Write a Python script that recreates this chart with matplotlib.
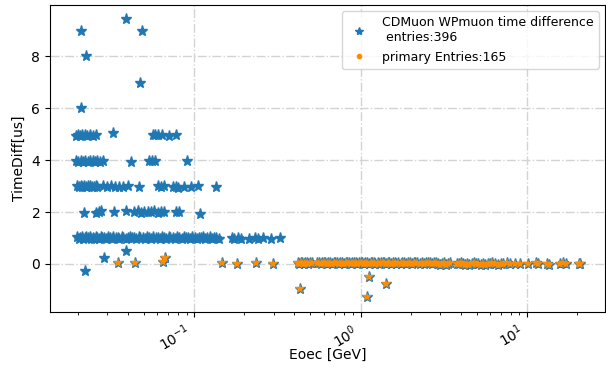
import matplotlib
matplotlib.use("Agg")
import matplotlib.pyplot as plt
from matplotlib.lines import Line2D

# ---------------- data ----------------
label_all = "CDMuon WPmuon time difference\n entries:396"
label_primary = "primary Entries:165"

# non-primary muon pairs (blue stars)
lvl1_x = [0.0197, 0.0202, 0.0207, 0.0211, 0.0216, 0.0221, 0.0225, 0.0231, 0.0236, 0.0240,
          0.0246, 0.0251, 0.0257, 0.0262, 0.0269, 0.0274, 0.0281, 0.0289, 0.0295, 0.0303,
          0.0310, 0.0321, 0.0327, 0.0338, 0.0347, 0.0355, 0.0367, 0.0376, 0.0389, 0.0398,
          0.0412, 0.0421, 0.0437, 0.0448, 0.0463, 0.0475, 0.0491, 0.0504, 0.0522, 0.0535,
          0.0553, 0.0568, 0.0587, 0.0603, 0.0623, 0.0640, 0.0662, 0.0679, 0.0702, 0.0720,
          0.0745, 0.0766, 0.0791, 0.0813, 0.0840, 0.0864, 0.0892, 0.0917, 0.0947, 0.0974,
          0.1006, 0.1035, 0.1068, 0.1101, 0.1133, 0.1169, 0.1203, 0.1241, 0.1279, 0.1322,
          0.1358, 0.1402, 0.168, 0.174, 0.183, 0.191, 0.213, 0.231, 0.241, 0.259, 0.289, 0.330]
lvl1_y = [1.02, 0.98, 1.01, 1.03, 0.97, 1.00, 1.02, 0.99, 1.03, 0.98,
          1.01, 0.97, 1.02, 1.00, 0.98, 1.03, 0.99, 1.01, 0.97, 1.02,
          1.00, 0.98, 1.03, 0.99, 1.01, 0.97, 1.02, 1.00, 0.98, 1.01,
          1.03, 0.99, 1.00, 0.97, 1.02, 0.99, 1.01, 0.98, 1.03, 1.00,
          0.97, 1.02, 0.99, 1.01, 0.98, 1.03, 1.00, 0.97, 1.02, 0.99,
          1.01, 0.98, 1.02, 1.00, 0.97, 1.03, 0.99, 1.01, 0.98, 1.02,
          1.00, 0.97, 1.01, 0.99, 1.03, 0.98, 1.00, 1.02, 0.97, 1.01,
          0.99, 0.98, 1.00, 0.97, 0.99, 0.96, 0.98, 1.01, 0.97, 0.99, 0.96, 1.00]

lvl2_x = [0.0217, 0.0256, 0.0267, 0.0274, 0.0328, 0.0388, 0.0433, 0.0458, 0.0478, 0.0497,
          0.0526, 0.0548, 0.0571, 0.0604, 0.0630, 0.0656, 0.0774, 0.0810, 0.108]
lvl2_y = [1.98, 1.95, 2.01, 2.03, 2.01, 2.02, 1.99, 2.02, 1.98, 2.00,
          2.01, 1.99, 2.02, 1.98, 2.00, 1.99, 2.01, 1.99, 1.94]

lvl3_x = [0.0197, 0.0203, 0.0208, 0.0213, 0.0219, 0.0224, 0.0230, 0.0236, 0.0242, 0.0249,
          0.0256, 0.0262, 0.0282, 0.0298, 0.0315, 0.0333, 0.0352, 0.0372, 0.0399, 0.0465,
          0.0604, 0.0630, 0.0656, 0.0743, 0.0774, 0.0796, 0.0865, 0.0953, 0.105, 0.135]
lvl3_y = [2.99, 2.96, 3.00, 2.97, 3.01, 2.95, 2.99, 3.02, 2.96, 2.98,
          3.00, 2.95, 2.99, 2.97, 3.01, 2.96, 2.98, 2.95, 2.99, 2.97,
          3.01, 2.98, 2.99, 2.96, 2.98, 2.94, 2.97, 2.95, 2.99, 2.98]

lvl4_x = [0.0194, 0.0201, 0.0208, 0.0215, 0.0222, 0.0229, 0.0237, 0.0245, 0.0253, 0.0262,
          0.0271, 0.0285, 0.0416, 0.0533, 0.0556, 0.0585, 0.0902]
lvl4_y = [3.95, 3.92, 3.97, 3.93, 3.96, 3.91, 3.95, 3.98, 3.93, 3.96,
          3.92, 3.97, 3.92, 3.96, 3.98, 3.95, 3.97]

lvl5_x = [0.0194, 0.0200, 0.0207, 0.0213, 0.0220, 0.0227, 0.0236, 0.0246, 0.0256,
          0.0324, 0.0563, 0.0585, 0.0610, 0.0645, 0.0703, 0.0774]
lvl5_y = [4.93, 4.97, 4.92, 4.96, 4.98, 4.94, 4.97, 4.93, 4.95,
          5.03, 4.95, 4.98, 4.96, 4.97, 4.91, 4.95]

high_x = [0.0208, 0.0388, 0.0484, 0.0223, 0.0471, 0.0208]
high_y = [8.96, 9.42, 8.96, 8.00, 6.96, 6.00]

low_x = [0.0220, 0.0287, 0.0388]
low_y = [-0.26, 0.24, 0.50]

# primary muon pairs (drawn blue, then overlaid orange)
prim_x = [0.0351, 0.0439, 0.0653, 0.0668, 0.148, 0.182, 0.234, 0.299,
          0.432, 1.13, 1.10, 1.43,
          0.419, 0.428, 0.437, 0.446, 0.455, 0.466, 0.475, 0.486, 0.497, 0.508,
          0.548, 0.561, 0.575, 0.587, 0.601, 0.612, 0.627, 0.641, 0.659, 0.672,
          0.689, 0.707, 0.723, 0.741, 0.758, 0.777, 0.795, 0.813, 0.834, 0.852,
          0.871, 0.893, 0.912, 0.934, 0.955, 0.978, 1.00, 1.02, 1.05, 1.07,
          1.10, 1.12, 1.15, 1.18, 1.21, 1.23, 1.27, 1.29, 1.32, 1.36,
          1.39, 1.42, 1.46, 1.49, 1.53, 1.56, 1.61, 1.64, 1.69, 1.74,
          1.78, 1.83, 1.87, 1.92, 1.98, 2.03, 2.09, 2.14, 2.20, 2.27,
          2.33, 2.41, 2.46, 2.54, 2.62, 2.69, 2.77, 2.84, 2.93, 3.02,
          3.11, 3.19, 3.28, 3.37, 3.44, 3.80, 3.90, 4.02, 4.13, 4.26,
          4.38, 4.52, 4.66, 4.80, 4.95, 5.10, 5.27, 5.43, 5.62, 5.81,
          6.02, 6.20, 6.45, 6.71, 6.95, 7.22, 7.58, 7.92, 8.45, 9.05,
          10.2, 11.4, 11.7, 13.3, 13.6, 15.8, 16.4, 17.1, 20.6, 20.9]
prim_y = [0.03, 0.03, 0.07, 0.22, 0.05, 0.00, 0.05, 0.00,
          -0.97, -0.49, -1.26, -0.78,
          0.03, 0.01, 0.04, 0.02, 0.00, 0.03, 0.05, 0.01, 0.02, 0.04,
          0.02, 0.04, 0.01, 0.03, 0.05, 0.02, 0.00, 0.04, 0.03, 0.01,
          0.05, 0.02, 0.04, 0.00, 0.03, 0.05, 0.01, 0.04, 0.02, 0.03,
          0.00, 0.05, 0.02, 0.04, 0.01, 0.03, 0.05, 0.02, 0.00, 0.04,
          0.03, 0.01, 0.05, 0.02, 0.04, 0.00, 0.03, 0.01, 0.05, 0.02,
          0.04, 0.00, 0.03, 0.05, 0.01, 0.02, 0.04, 0.00, 0.03, 0.01,
          0.05, 0.02, 0.00, 0.04, 0.03, 0.01, 0.05, 0.02, 0.04, 0.00,
          0.03, 0.01, 0.05, 0.02, 0.04, -0.01, 0.02, 0.03, 0.00, -0.02,
          0.01, 0.03, -0.03, 0.00, 0.02, 0.01, -0.01, 0.02, 0.00, -0.02,
          0.01, -0.03, 0.00, 0.02, -0.01, 0.01, -0.02, 0.00, -0.03, 0.01,
          -0.01, 0.02, 0.00, -0.02, 0.01, -0.01, 0.02, 0.00, -0.01, 0.01,
          0.00, 0.02, -0.01, 0.01, -0.02, 0.00, 0.02, -0.01, 0.01, 0.00]

x_limits = (0.0136, 29.4)
y_limits = (-1.85, 9.96)
y_ticks = [0, 2, 4, 6, 8]

# ---------------- plot ----------------
blue = "#1f77b4"
orange = "darkorange"

fig = plt.figure(figsize=(6.06, 3.68), dpi=100)
ax = fig.add_axes([0.0825, 0.152, 0.9155, 0.834])

all_x = lvl1_x + lvl2_x + lvl3_x + lvl4_x + lvl5_x + high_x + low_x + prim_x
all_y = lvl1_y + lvl2_y + lvl3_y + lvl4_y + lvl5_y + high_y + low_y + prim_y

ax.plot(all_x, all_y, linestyle="none", marker="*", color=blue, markersize=8, zorder=3)
ax.plot(prim_x, prim_y, linestyle="none", marker="*", color=orange, markeredgewidth=0,
        markersize=7, zorder=4)

ax.set_xscale("log")
ax.set_xlim(*x_limits)
ax.set_ylim(*y_limits)
ax.set_yticks(y_ticks)
ax.grid(True, which="major", color="lightgray", linestyle="-.", linewidth=1.0)
ax.set_axisbelow(True)
for lab in ax.get_xticklabels():
    lab.set_rotation(30)
    lab.set_ha("right")

ax.set_xlabel("Eoec [GeV]")
ax.xaxis.set_label_coords(0.5, -0.118)
ax.set_ylabel("TimeDiff[us]")

handles = [
    Line2D([], [], linestyle="none", marker="*", color=blue, markersize=6),
    Line2D([], [], linestyle="none", marker="o", color=orange, markersize=3),
]
ax.legend(handles, [label_all, label_primary], loc="upper right", fontsize=9)

fig.savefig("out.png", dpi=100)
